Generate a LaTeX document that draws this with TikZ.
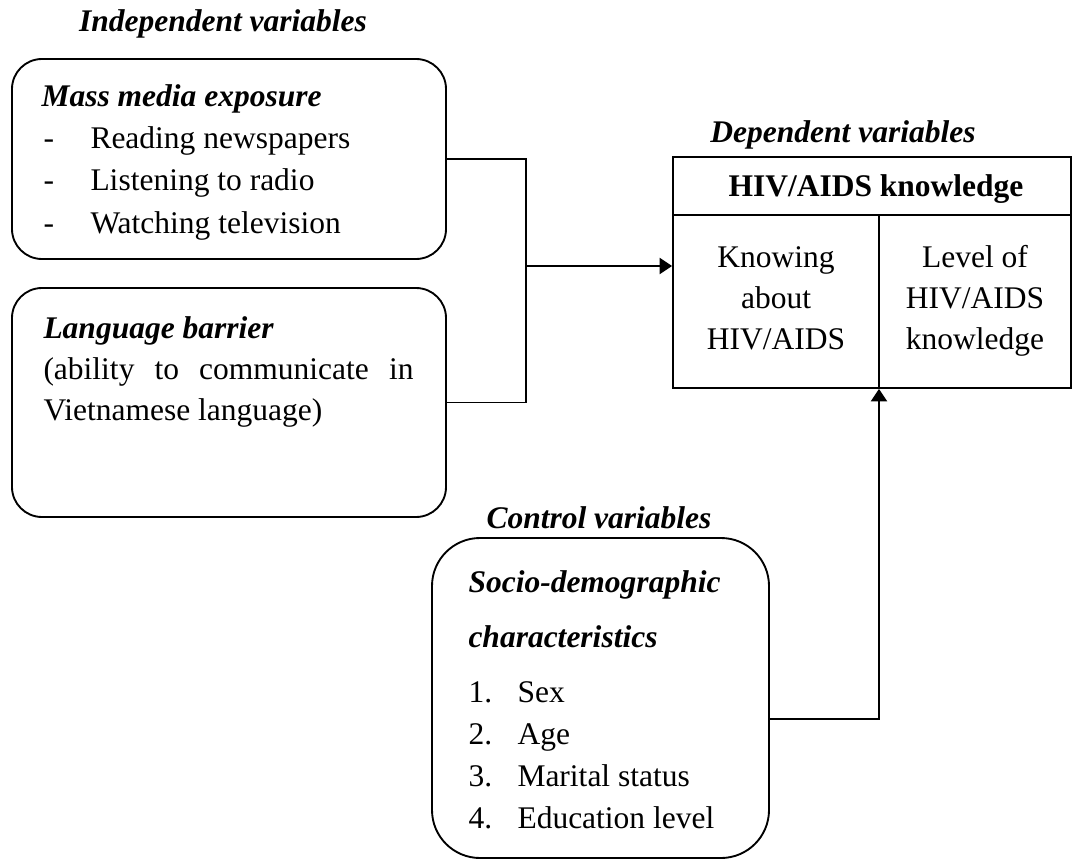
\documentclass[tikz,border=0pt]{standalone}
\usepackage{fontspec}
\setmainfont{Liberation Serif}
\usetikzlibrary{positioning,arrows.meta}

\begin{document}
\begin{tikzpicture}[x=0.4pt,y=-0.4pt,
    every node/.style={font=\fontsize{12.6}{16.8}\selectfont,inner sep=0pt},
    rbox/.style={draw,line width=0.75pt,rounded corners=12pt,minimum width=173.6pt},
    title/.style={font=\fontsize{12.6}{16.8}\selectfont\bfseries\itshape,anchor=base},
    head/.style={font=\fontsize{12.6}{16.8}\selectfont\bfseries\itshape,anchor=base west},
    txt/.style={anchor=base west},
    arr/.style={line width=0.75pt,-{Triangle[length=5pt,width=6.5pt]}}]
    \useasboundingbox (0,0) rectangle (1072,859);

    % boxes
    \node[rbox,minimum height=80pt] (media) at (229,159) {};
    \node[rbox,minimum height=91.6pt] (lang) at (229,402.5) {};
    \node[draw,line width=0.75pt,minimum width=159.2pt,minimum height=92.4pt] (dep) at (872,272.5) {};
    \node[draw,line width=0.75pt,rounded corners=19.2pt,minimum width=134.8pt,minimum height=128pt] (ctrl) at (600.5,698) {};

    % titles
    \node[title] (indep) at (223,32) {Independent variables};
    \node[title] (deptitle) at (843,143) {Dependent variables};
    \node[title] (ctrltitle) at (599,528) {Control variables};

    % mass media
    \node[head] (mediahead) at (41,107) {Mass media exposure};
    \foreach \entry [count=\i] in {Reading newspapers, Listening to radio, Watching television}{
        \node[txt] (dash\i) at (43,107+42*\i) {-};
        \node[txt] (media\i) at (90,107+42*\i) {\entry};
    }

    % language
    \node[head] (langhead) at (43,338) {Language barrier};
    \node[txt] (lang1) at (43,379) {\makebox[148pt][s]{(ability to communicate in}};
    \node[txt] (lang2) at (43,420) {Vietnamese language)};

    % control
    \node[head] (ctrlhead1) at (468,592) {Socio-demographic};
    \node[head] (ctrlhead2) at (468,647) {characteristics};
    \foreach \entry [count=\i] in {Sex, Age, Marital status, Education level}{
        \node[txt] (num\i) at (468,660+42*\i) {\i.};
        \node[txt] (ctrl\i) at (517,660+42*\i) {\entry};
    }

    % dependent table
    \coordinate (split) at (879,215);
    \draw[line width=0.75pt] (dep.west |- split) -- (dep.east |- split);
    \draw[line width=0.75pt] (split) -- (split |- dep.south);
    \node[anchor=base,font=\fontsize{12.6}{16.8}\selectfont\bfseries] (hivhead) at (876,197) {HIV/AIDS knowledge};
    \foreach \entry [count=\i] in {Knowing, about, HIV/AIDS}
        \node[anchor=base] (know\i) at (776,226+41*\i) {\entry};
    \foreach \entry [count=\i] in {Level of, HIV/AIDS, knowledge}
        \node[anchor=base] (level\i) at (975,226+41*\i) {\entry};

    % connectors
    \coordinate (join) at (526,266);
    \draw[line width=0.75pt] (media.east) -| (join) |- (lang.east);
    \draw[arr] (join) -- (join -| dep.west);
    \coordinate (turn) at (879,719);
    \draw[arr] (ctrl.east |- turn) -| (split |- dep.south);
\end{tikzpicture}
\end{document}
